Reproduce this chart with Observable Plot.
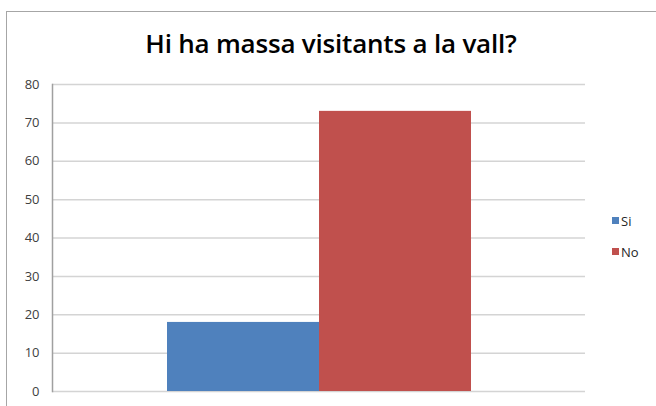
<!DOCTYPE html>
<html>
<head>
<meta charset="utf-8">
<script src="https://cdn.jsdelivr.net/npm/d3@7"></script>
<script src="https://cdn.jsdelivr.net/npm/@observablehq/plot@0.6"></script>
<style>
  html, body { margin: 0; padding: 0; background: #fff; }
  #wrap { position: relative; width: 656px; height: 406px; overflow: hidden; font-family: "Open Sans", sans-serif; }
  #frame { position: absolute; left: 6px; top: 11px; width: 660px; height: 420px; border: 1.5px solid #a6a6a6; box-sizing: border-box; }
  #title { position: absolute; left: 7px; width: 648px; top: 25px; text-align: center; font-size: 26px; font-weight: 600; color: #000; letter-spacing: -0.2px; }
  #chart { position: absolute; left: 0; top: 0; }
  #legend { position: absolute; left: 612px; top: 205px; font-size: 13px; color: #262626; }
  .item { display: flex; align-items: center; height: 31px; }
  .sw { width: 7px; height: 7px; margin-right: 2px; }
</style>
</head>
<body>
<div id="wrap">
  <div id="frame"></div>
  <div id="chart"></div>
  <div id="title"></div>
  <div id="legend"></div>
</div>
<script>
const title = "Hi ha massa visitants a la vall?";
const categories = ["Si", "No"];
const values = [18, 73];
const colors = ["#4f81bd", "#c0504d"];
const yTicks = [0, 10, 20, 30, 40, 50, 60, 70, 80];

const data = categories.map((c, i) => ({category: c, value: values[i]}));

const chart = Plot.plot({
  width: 656,
  height: 406,
  marginLeft: 52,
  marginRight: 71,
  marginTop: 84,
  marginBottom: 15,
  style: {background: "transparent", fontFamily: "Open Sans, sans-serif", fontSize: "13px", color: "#404040"},
  x: {domain: categories, paddingInner: 0, paddingOuter: 0.753, axis: null},
  y: {domain: [0, 80], ticks: yTicks, label: null, tickSize: 0, tickPadding: 13},
  color: {domain: categories, range: colors},
  marks: [
    Plot.ruleY(yTicks, {stroke: "#d4d4d4", strokeWidth: 1.5}),
    Plot.frame({anchor: "left", stroke: "#a0a0a0", strokeWidth: 1.5}),
    Plot.barY(data, {x: "category", y: "value", fill: "category"}),
    Plot.axisY({ticks: yTicks, tickSize: 0, tickPadding: 13, label: null, fill: "#404040"})
  ]
});
document.getElementById("chart").appendChild(chart);
document.getElementById("title").textContent = title;

const legend = document.getElementById("legend");
categories.forEach((c, i) => {
  const item = document.createElement("div");
  item.className = "item";
  const sw = document.createElement("div");
  sw.className = "sw";
  sw.style.background = colors[i];
  const t = document.createElement("span");
  t.textContent = c;
  item.appendChild(sw);
  item.appendChild(t);
  legend.appendChild(item);
});
</script>
</body>
</html>
